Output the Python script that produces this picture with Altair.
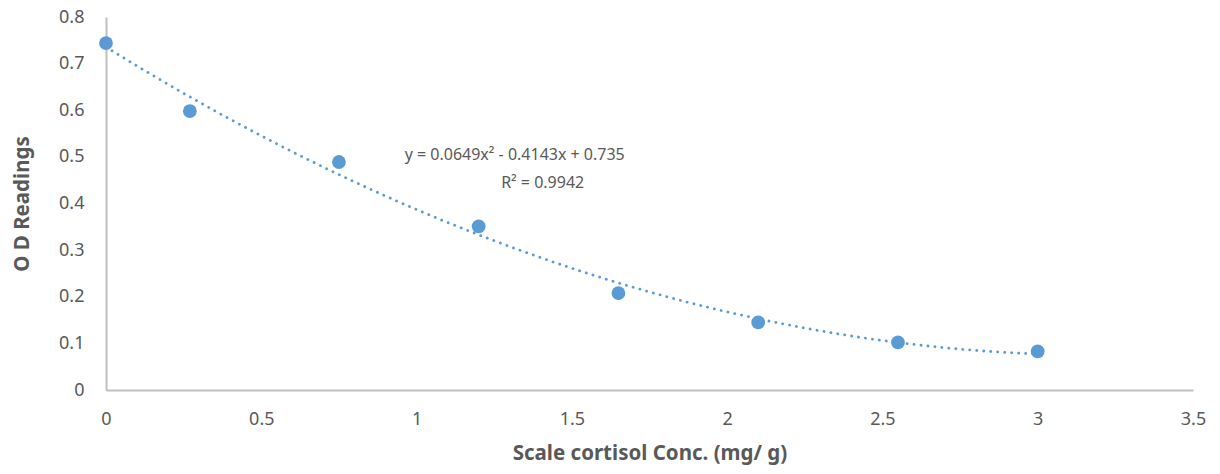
import altair as alt
import pandas as pd

conc = [0, 0.27, 0.75, 1.2, 1.65, 2.1, 2.55, 3.0]
od = [0.744, 0.598, 0.489, 0.351, 0.208, 0.145, 0.102, 0.083]

eq_text = ["y = 0.0649x² - 0.4143x + 0.735", "R² = 0.9942"]
eq_x = [1.316, 1.406]
eq_y = [0.504, 0.4435]

df = pd.DataFrame({"conc": conc, "od": od})
ann = pd.DataFrame({"t": eq_text, "x": eq_x, "y": eq_y})

FONT = "Noto Sans"
BLUE = "#5b9bd5"
GREY = "#595959"

xs = alt.Scale(domain=[0, 3.5], nice=False)
ys = alt.Scale(domain=[0, 0.8], nice=False)

xax = alt.Axis(values=[0, 0.5, 1, 1.5, 2, 2.5, 3, 3.5], grid=False, ticks=False,
               domainColor="#bfbfbf", domainWidth=2, labelColor=GREY,
               labelFont=FONT, labelFontSize=18, labelPadding=20,
               title="Scale cortisol Conc. (mg/ g)", titleFont=FONT, titleFontSize=20.5,
               titleFontWeight="bold", titleColor=GREY, titlePadding=15,
               labelFlush=False, labelExpr="format(datum.value, '')")
yax = alt.Axis(values=[0, 0.1, 0.2, 0.3, 0.4, 0.5, 0.6, 0.7, 0.8], grid=False, ticks=False,
               domainColor="#bfbfbf", domainWidth=2, labelColor=GREY,
               labelFont=FONT, labelFontSize=18, labelPadding=22,
               title="O D Readings", titleFont=FONT, titleFontSize=20.5,
               titleFontWeight="bold", titleColor=GREY, titlePadding=26,
               labelFlush=False, labelExpr="format(datum.value, '')")

base = alt.Chart(df)

trend = base.transform_regression("conc", "od", method="poly", order=2).mark_line(
    color=BLUE, strokeWidth=2.8, strokeDash=[0.1, 6.9], strokeCap="round"
).encode(x=alt.X("conc:Q", scale=xs, axis=xax), y=alt.Y("od:Q", scale=ys, axis=yax))

pts = base.mark_point(filled=True, opacity=1, size=190, color=BLUE).encode(
    x=alt.X("conc:Q", scale=xs), y=alt.Y("od:Q", scale=ys))

txt = alt.Chart(ann).mark_text(font=FONT, fontSize=16, color=GREY, align="center",
                               baseline="middle").encode(
    x=alt.X("x:Q", scale=xs), y=alt.Y("y:Q", scale=ys), text="t:N")

chart = alt.layer(trend, pts, txt).properties(
    width=1087, height=373,
    autosize=alt.AutoSizeParams(type="none"),
    padding={"left": 98, "top": 9, "right": 19, "bottom": 76},
).configure(background="white").configure_view(stroke=None, strokeWidth=0)

chart.save("out.html", embed_options={"renderer": "svg", "actions": False})
